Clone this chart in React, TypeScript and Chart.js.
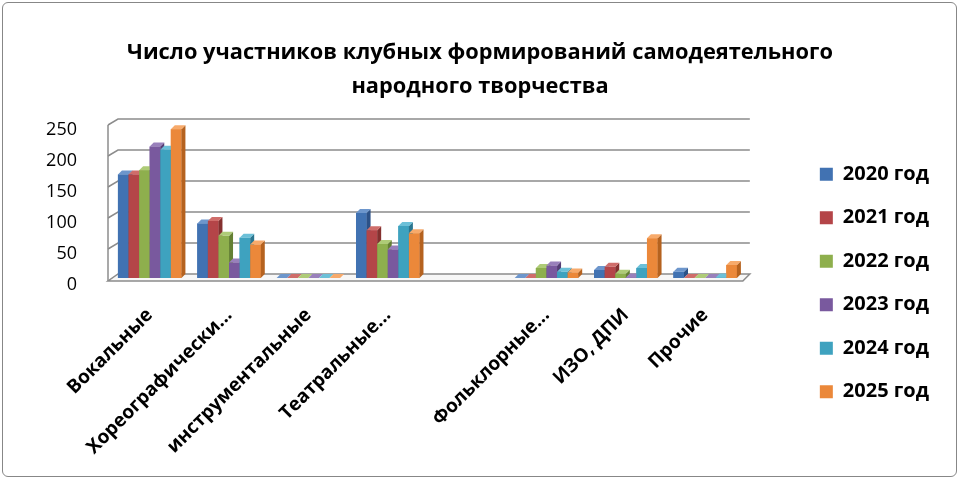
import React, { useEffect, useRef } from 'react';
import { Chart, ChartConfiguration, Plugin } from 'chart.js/auto';

const categories = [
  'Вокальные',
  'Хореографически...',
  'инструментальные',
  'Театральные...',
  '',
  'Фольклорные...',
  'ИЗО, ДПИ',
  'Прочие',
];

const seriesNames = ['2020 год', '2021 год', '2022 год', '2023 год', '2024 год', '2025 год'];

const values2020 = [167, 88, 0, 105, null, 0, 13, 10];
const values2021 = [167, 92, 0, 77, null, 0, 18, 0];
const values2022 = [174, 68, 0, 55, null, 16, 7, 0];
const values2023 = [212, 25, 0, 46, null, 20, 1, 0];
const values2024 = [207, 65, 0, 84, null, 10, 16, 1];
const values2025 = [240, 54, 0, 72, null, 9, 64, 21];

const yTicks = [0, 50, 100, 150, 200, 250];

const seriesValues = [values2020, values2021, values2022, values2023, values2024, values2025];

// front / side / top shades for the fake 3d columns
const frontColors = ['#4172b2', '#b44548', '#8eaf4d', '#79599e', '#3ea2bf', '#eb883a'];
const sideColors = ['#2c5187', '#84302f', '#648033', '#553d75', '#2a7690', '#b5621f'];
const topColors = ['#6d96cc', '#cf6d6a', '#aecb77', '#9980bb', '#6cc0d8', '#f7aa6b'];

const DX = 4;
const DY = 4;
const LEGEND_SHIFT_X = -21;
const LEGEND_SHIFT_Y = 43;

const wallsPlugin: Plugin = {
  id: 'walls',
  beforeDatasetsDraw(chart) {
    const { ctx, chartArea } = chart;
    const y = chart.scales.y;
    const { left, right } = chartArea;
    const p0 = y.getPixelForValue(0);
    ctx.save();
    ctx.strokeStyle = '#8c8c8c';
    ctx.lineWidth = 1.5;
    // floor
    ctx.beginPath();
    ctx.moveTo(left - 2, p0 + 3);
    ctx.lineTo(right - 2, p0 + 3);
    ctx.lineTo(right + 5, p0 - 4);
    ctx.lineTo(left + 8, p0 - 4);
    ctx.closePath();
    ctx.fillStyle = '#f7f7f7';
    ctx.fill();
    ctx.stroke();
    // left wall edge
    ctx.beginPath();
    ctx.moveTo(left - 2, y.getPixelForValue(yTicks[yTicks.length - 1]) + 2);
    ctx.lineTo(left - 2, p0 + 3);
    ctx.stroke();
    yTicks.forEach((v) => {
      if (v === 0) return;
      const py = y.getPixelForValue(v);
      ctx.beginPath();
      ctx.moveTo(left - 2, py + 2);
      ctx.lineTo(left + 8, py - 4);
      ctx.lineTo(right + 5, py - 4);
      ctx.stroke();
    });
    ctx.restore();
  },
  afterDatasetsDraw(chart) {
    const { ctx } = chart;
    ctx.save();
    // draw series left to right so a right neighbour hides the side face
    chart.data.datasets.forEach((ds, i) => {
      const meta = chart.getDatasetMeta(i);
      meta.data.forEach((el: any, j: number) => {
        if (ds.data[j] == null) return;
        const { x, y, base, width } = el.getProps(['x', 'y', 'base', 'width'], true);
        const l = x - width / 2;
        const r = x + width / 2;
        ctx.fillStyle = frontColors[i];
        ctx.fillRect(l, y, width, base - y);
        ctx.fillStyle = sideColors[i];
        ctx.beginPath();
        ctx.moveTo(r, y);
        ctx.lineTo(r + DX, y - DY);
        ctx.lineTo(r + DX, base - DY);
        ctx.lineTo(r, base);
        ctx.closePath();
        ctx.fill();
        ctx.fillStyle = topColors[i];
        ctx.beginPath();
        ctx.moveTo(l, y);
        ctx.lineTo(r, y);
        ctx.lineTo(r + DX, y - DY);
        ctx.lineTo(l + DX, y - DY);
        ctx.closePath();
        ctx.fill();
      });
    });
    ctx.restore();
  },
  afterLayout(chart) {
    const lg: any = chart.legend;
    if (!lg) return;
    lg.left += LEGEND_SHIFT_X;
    lg.right += LEGEND_SHIFT_X;
    lg.top += LEGEND_SHIFT_Y;
    lg.bottom += LEGEND_SHIFT_Y;
  },
};

const ClubChart: React.FC = () => {
  const canvasRef = useRef<HTMLCanvasElement | null>(null);
  const chartRef = useRef<Chart | null>(null);

  useEffect(() => {
    if (!canvasRef.current) return;
    const ctx = canvasRef.current.getContext('2d');
    if (!ctx) return;

    if (chartRef.current) {
      chartRef.current.destroy();
    }

    const config: ChartConfiguration = {
      type: 'bar',
      data: {
        labels: categories,
        datasets: seriesNames.map((name, i) => ({
          label: name,
          data: seriesValues[i],
          backgroundColor: frontColors[i],
          borderWidth: 0,
          categoryPercentage: 0.8,
          barPercentage: 1.0,
        })),
      },
      options: {
        responsive: false,
        animation: false,
        layout: { padding: 0 },
        plugins: {
          title: {
            display: true,
            text: ['Число участников клубных формирований самодеятельного', 'народного творчества'],
            color: '#000',
            font: { family: 'Open Sans', size: 21.8, weight: 'bold', lineHeight: 1.56 },
            padding: { top: 36, bottom: 19 },
          },
          legend: {
            position: 'right',
            labels: {
              color: '#000',
              font: { family: 'Open Sans', size: 20, weight: 'bold' },
              boxWidth: 13,
              boxHeight: 13,
              padding: 23.5,
            },
          },
          tooltip: { enabled: false },
        },
        scales: {
          x: {
            grid: { display: false },
            border: { display: false },
            ticks: {
              color: '#000',
              font: { family: 'Open Sans', size: 19, weight: 'bold' },
              minRotation: 45,
              maxRotation: 45,
              autoSkip: false,
              padding: 18,
            },
            afterFit: (scale) => {
              scale.height = 202;
            },
          },
          y: {
            min: 0,
            max: 250,
            grid: { display: false },
            border: { display: false },
            ticks: {
              stepSize: 50,
              color: '#000',
              font: { family: 'Open Sans', size: 18 },
              padding: 25,
              labelOffset: 7,
            },
            afterFit: (scale) => {
              scale.width = 110;
            },
          },
          // empty right axis: only keeps a gap between the plot and the legend
          gap: {
            type: 'linear',
            position: 'right',
            display: true,
            grid: { display: false },
            border: { display: false },
            ticks: { display: false },
            afterFit: (scale) => {
              scale.width = 72.5;
            },
          },
        },
      },
      plugins: [wallsPlugin],
    };

    chartRef.current = new Chart(ctx, config);

    return () => {
      if (chartRef.current) {
        chartRef.current.destroy();
        chartRef.current = null;
      }
    };
  }, []);

  return (
    <div style={{ position: 'fixed', left: 0, top: 0, width: 960, height: 480, background: '#fff' }}>
      <canvas ref={canvasRef} width={960} height={480} />
      <div
        style={{
          position: 'absolute',
          left: 2,
          top: 2,
          width: 955,
          height: 475,
          boxSizing: 'border-box',
          border: '1px solid #878787',
          borderRadius: 6,
          pointerEvents: 'none',
        }}
      />
    </div>
  );
};

export default function App() {
  return <ClubChart />;
}
